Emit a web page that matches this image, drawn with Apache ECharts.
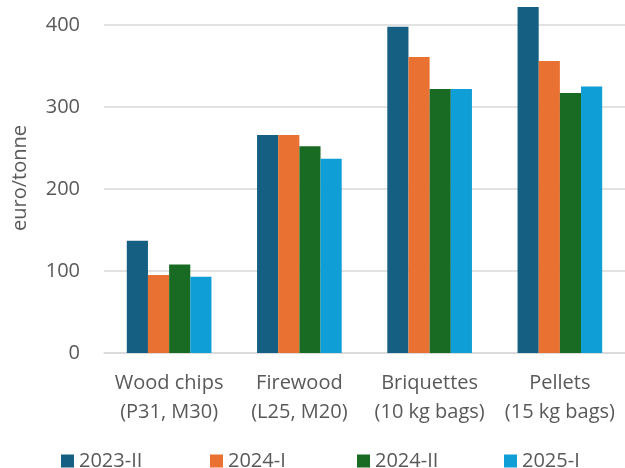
<!DOCTYPE html>
<html>
<head>
<meta charset="utf-8">
<script src="https://cdn.jsdelivr.net/npm/echarts@6/dist/echarts.min.js"></script>
<style>
  html, body { margin: 0; padding: 0; background: #ffffff; }
  #chart { width: 625px; height: 468px; }
</style>
</head>
<body>
<div id="chart"></div>
<script>
// Fuel categories (two-line labels)
const categories = [
  'Wood chips\n(P31, M30)',
  'Firewood\n(L25, M20)',
  'Briquettes\n(10 kg bags)',
  'Pellets\n(15 kg bags)'
];

// Survey periods
const periods = ['2023-II', '2024-I', '2024-II', '2025-I'];

// Prices in euro/tonne, one array per period
const values2023II = [137, 266, 398, 422];
const values2024I  = [95, 266, 361, 356];
const values2024II = [108, 252, 322, 317];
const values2025I  = [93, 237, 322, 325];

const seriesValues = [values2023II, values2024I, values2024II, values2025I];
const colors = ['#156082', '#E97132', '#196B24', '#0F9ED5'];

const fontFamily = '"Open Sans", "Noto Sans", sans-serif';
const textColor = '#595959';

// Legend entries sit in equal-width slots along the bottom edge
const legendSlotLeft = [61, 210, 357, 504];

const chart = echarts.init(document.getElementById('chart'), null, { renderer: 'canvas' });

chart.setOption({
  animation: false,
  backgroundColor: '#ffffff',
  color: colors,
  textStyle: { fontFamily: fontFamily, color: textColor },
  grid: { left: 104, width: 528, top: 25, height: 328, containLabel: false },
  legend: periods.map((name, i) => ({
    data: [name],
    left: legendSlotLeft[i],
    top: 451,
    padding: 0,
    itemWidth: 13,
    itemHeight: 13,
    icon: 'rect',
    textStyle: { fontFamily: fontFamily, fontSize: 20, color: textColor }
  })),
  xAxis: {
    type: 'category',
    data: categories,
    axisTick: { show: false },
    axisLine: { show: true, lineStyle: { color: '#d9d9d9', width: 1.5 } },
    axisLabel: {
      margin: 16,
      fontFamily: fontFamily,
      fontSize: 20,
      lineHeight: 29,
      color: textColor,
      interval: 0
    }
  },
  yAxis: {
    type: 'value',
    min: 0,
    max: 400,
    interval: 100,
    axisLine: { show: false },
    axisTick: { show: false },
    axisLabel: { margin: 24, fontFamily: fontFamily, fontSize: 20, color: textColor },
    splitLine: { lineStyle: { color: '#d9d9d9', width: 1.5 } }
  },
  graphic: [{
    type: 'text',
    x: 20,
    y: 178,
    rotation: Math.PI / 2,
    style: {
      text: 'euro/tonne',
      fontFamily: fontFamily,
      fontSize: 20,
      fill: textColor,
      textAlign: 'center',
      textVerticalAlign: 'middle',
      verticalAlign: 'middle',
      align: 'center'
    }
  }],
  series: periods.map((name, i) => ({
    name: name,
    type: 'bar',
    data: seriesValues[i],
    clip: false,
    barGap: '0%',
    barCategoryGap: '35%'
  }))
});
</script>
</body>
</html>
